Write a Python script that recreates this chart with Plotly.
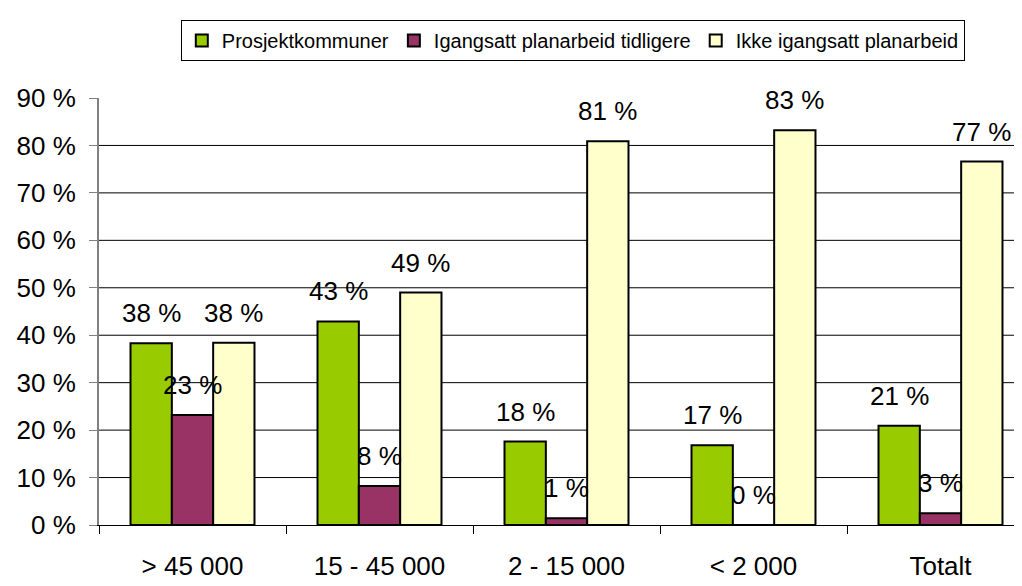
import plotly.graph_objects as go

categories = ["> 45 000", "15 - 45 000", "2 - 15 000", "< 2 000", "Totalt"]
series_names = ["Prosjektkommuner", "Igangsatt planarbeid tidligere", "Ikke igangsatt planarbeid"]
prosjekt = [38.3, 42.9, 17.6, 16.8, 20.9]
igangsatt = [23.2, 8.2, 1.4, 0.0, 2.5]
ikke = [38.4, 49.0, 80.9, 83.2, 76.6]
labels = [
    ["38 %", "43 %", "18 %", "17 %", "21 %"],
    ["23 %", "8 %", "1 %", "0 %", "3 %"],
    ["38 %", "49 %", "81 %", "83 %", "77 %"],
]
y_ticks = [0, 10, 20, 30, 40, 50, 60, 70, 80, 90]
grid_vals = [10, 20, 30, 40, 50, 60, 70, 80]

colors = ["#99CC00", "#993366", "#FFFFCC"]
FONT = "Liberation Sans, Arial, sans-serif"
BAR_PX = 41.4

# page body has an 8px margin, so the figure is drawn at (8, 8)
W, H = 1014, 578

fig = go.Figure()
for name, vals, col in zip(series_names, [prosjekt, igangsatt, ikke], colors):
    fig.add_trace(go.Bar(
        x=categories, y=vals, name=name,
        marker=dict(color=col, line=dict(color="black", width=2)),
    ))

for i, (vals, labs) in enumerate(zip([prosjekt, igangsatt, ikke], labels)):
    for cat, v, t in zip(categories, vals, labs):
        fig.add_annotation(
            x=cat, y=v, text=t, showarrow=False, xref="x", yref="y",
            xshift=(i - 1) * BAR_PX, yshift=13, yanchor="bottom",
            font=dict(size=26, color="black", family=FONT),
        )

for g in grid_vals:
    fig.add_shape(type="line", xref="paper", yref="y", x0=0, x1=1, y0=g, y1=g,
                  line=dict(color="black", width=1), layer="below")

fig.update_layout(
    width=W, height=H,
    barmode="group", bargap=0.337, bargroupgap=0,
    plot_bgcolor="white", paper_bgcolor="white",
    margin=dict(l=91, r=0, t=90, b=61, autoexpand=False),
    font=dict(family=FONT, color="black"),
    showlegend=True,
    legend=dict(
        orientation="h", x=0.557, xref="container", xanchor="center",
        y=1 - 12 / H, yref="container", yanchor="top",
        font=dict(size=20, family=FONT, color="black"),
        bordercolor="black", borderwidth=1, bgcolor="white",
        tracegroupgap=0,
    ),
)

fig.update_xaxes(
    range=[-0.5, 4.5 - 12 / 187],
    showline=True, linecolor="black", linewidth=1,
    ticks="outside", tickson="boundaries", ticklen=8, tickcolor="black",
    tickfont=dict(size=26, family=FONT, color="black"),
    ticklabelstandoff=18,
    showgrid=False, zeroline=False, automargin=False,
)
fig.update_yaxes(
    range=[0, 90], tickvals=y_ticks, ticktext=[f"{v} %" for v in y_ticks],
    showline=True, linecolor="#808080", linewidth=2,
    ticks="outside", ticklen=8, tickcolor="#808080",
    tickfont=dict(size=26, family=FONT, color="black"),
    ticklabelstandoff=8,
    showgrid=False, zeroline=False, automargin=False,
)

fig.write_html("out.html")
